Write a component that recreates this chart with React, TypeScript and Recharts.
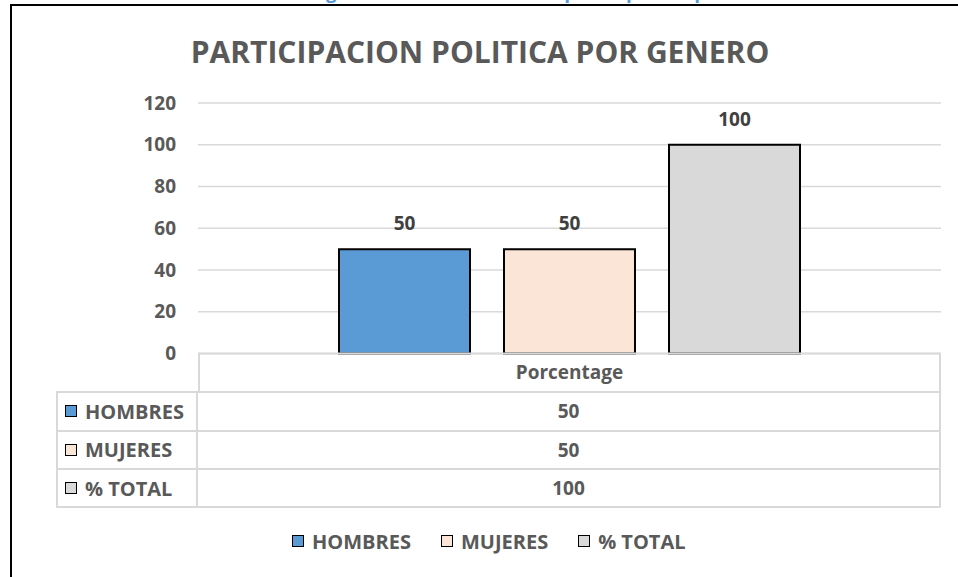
import React from 'react';
import { BarChart, Bar, XAxis, YAxis, CartesianGrid, LabelList } from 'recharts';

const categories = ['Porcentage'];
const seriesNames = ['HOMBRES', 'MUJERES', '% TOTAL'];
const hombres = [50];
const mujeres = [50];
const total = [100];
const yTicks = [0, 20, 40, 60, 80, 100, 120];

const seriesKeys = ['hombres', 'mujeres', 'total'];
const seriesColors = ['#5b9bd5', '#fbe5d6', '#d9d9d9'];
const seriesValues = [hombres, mujeres, total];

const data = categories.map((name, i) => ({
  name,
  hombres: hombres[i],
  mujeres: mujeres[i],
  total: total[i],
}));

const FONT = '"Open Sans", sans-serif';
const GREY_TEXT = '#595959';
const LINE = '#d9d9d9';

const Swatch: React.FC<{ color: string }> = ({ color }) => (
  <span
    style={{
      display: 'inline-block',
      width: 10,
      height: 10,
      background: color,
      border: '1.5px solid #000',
      marginRight: 8,
    }}
  />
);

const App: React.FC = () => {
  const headTop = 354;
  const rowTops = [391, 429.5, 468];
  const tableBottom = 506;

  return (
    <div style={{ position: 'absolute', left: 0, top: 0, width: 958, height: 577, background: '#fff', fontFamily: FONT, overflow: 'hidden' }}>
      {/* heading of the page above, mostly cut off */}
      <div style={{ position: 'absolute', left: 0, top: 0, width: 958, height: 4, overflow: 'hidden' }}>
        <div style={{ position: 'absolute', left: 196, top: -18, whiteSpace: 'nowrap', color: '#5b9bd5', fontSize: 19, fontWeight: 700, lineHeight: '19px' }}>
          Resultados según sexo en relación a la participación política
        </div>
      </div>

      {/* frame */}
      <div style={{ position: 'absolute', left: 10, top: 4, width: 960, height: 600, borderLeft: '2px solid #000', borderTop: '2px solid #000' }} />

      <div style={{ position: 'absolute', left: 0, top: 37, width: 960, textAlign: 'center', fontSize: 30, fontWeight: 700, lineHeight: '30px', color: GREY_TEXT }}>
        PARTICIPACION POLITICA POR GENERO
      </div>

      <div style={{ position: 'absolute', left: 0, top: 0 }}>
        <BarChart width={958} height={577} data={data} margin={{ top: 103, right: 17, bottom: 193.5, left: 138 }} barGap={34}>
          <CartesianGrid vertical={false} stroke={LINE} strokeWidth={1.5} />
          <XAxis
            dataKey="name"
            axisLine={{ stroke: LINE, strokeWidth: 2 }}
            tickLine={false}
            tickSize={0}
            tickMargin={12}
            height={30}
            tick={{ fill: GREY_TEXT, fontSize: 19, fontWeight: 700 }}
          />
          <YAxis
            domain={[0, 120]}
            ticks={yTicks}
            axisLine={false}
            tickLine={false}
            tickSize={0}
            tickMargin={22}
            width={60}
            tick={{ fill: GREY_TEXT, fontSize: 19, fontWeight: 700 }}
          />
          {seriesKeys.map((key, i) => (
            <Bar key={key} dataKey={key} name={seriesNames[i]} fill={seriesColors[i]} stroke="#000" strokeWidth={2} barSize={131} isAnimationActive={false}>
              <LabelList dataKey={key} position="top" offset={19} fill="#404040" fontSize={19} fontWeight={700} />
            </Bar>
          ))}
        </BarChart>
      </div>

      {/* data table */}
      <div style={{ position: 'absolute', left: 198, top: headTop, width: 743, height: rowTops[0] - headTop, borderLeft: `2px solid ${LINE}`, borderRight: `2px solid ${LINE}`, boxSizing: 'border-box' }} />
      {seriesNames.map((name, i) => {
        const top = rowTops[i];
        const bottom = i < rowTops.length - 1 ? rowTops[i + 1] : tableBottom;
        const last = i === seriesNames.length - 1;
        return (
          <div
            key={name}
            style={{
              position: 'absolute',
              left: 56,
              top,
              width: 941 - 56,
              height: bottom - top + (last ? 2 : 0),
              borderLeft: `2px solid ${LINE}`,
              borderRight: `2px solid ${LINE}`,
              borderTop: `2px solid ${LINE}`,
              borderBottom: last ? `2px solid ${LINE}` : 'none',
              boxSizing: 'border-box',
              display: 'flex',
              alignItems: 'center',
              color: GREY_TEXT,
              fontSize: 20,
              fontWeight: 700,
            }}
          >
            <div style={{ width: 140, height: '100%', borderRight: `2px solid ${LINE}`, display: 'flex', alignItems: 'center', paddingLeft: 7, boxSizing: 'border-box' }}>
              <Swatch color={seriesColors[i]} />
              {name}
            </div>
            <div style={{ flex: 1, textAlign: 'center', fontSize: 19 }}>{seriesValues[i][0]}</div>
          </div>
        );
      })}

      {/* legend */}
      <div style={{ position: 'absolute', left: 292, top: 528, height: 26, display: 'flex', alignItems: 'center', gap: 30, color: GREY_TEXT, fontSize: 20, fontWeight: 700 }}>
        {seriesNames.map((name, i) => (
          <div key={name} style={{ display: 'flex', alignItems: 'center' }}>
            <Swatch color={seriesColors[i]} />
            {name}
          </div>
        ))}
      </div>
    </div>
  );
};

export default App;
